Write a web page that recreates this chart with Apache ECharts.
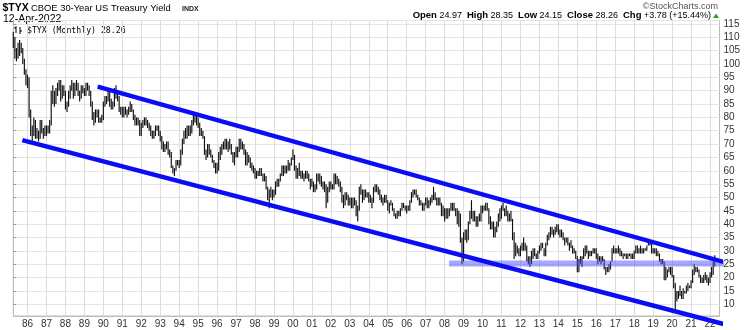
<!DOCTYPE html>
<html><head><meta charset="utf-8">
<script src="https://cdn.jsdelivr.net/npm/echarts@6/dist/echarts.min.js"></script>
<style>html,body{margin:0;padding:0;background:#fff}#c{width:750px;height:330px}</style>
</head><body><div id="c"></div>
<script>
// Monthly $TYX bars, first bar = Apr 1985, last bar = Apr 2022
const firstYear = 1985, firstMonth = 4, axisMonths = 448; // axis runs Apr 1985 .. Jul 2022
const lows = [
 106,102,101,102,103,104,100,96,92,
 91,80,73,71,73,72,72,71,72,74,72,73,
 73,74,74,77,85,84,85,88,90,86,87,88,
 83,82,84,87,90,87,88,90,88,86,87,89,
 88,88,90,88,84,79,77,78,80,78,78,78,
 79,84,85,86,84,83,83,84,87,86,82,81,
 80,80,81,80,81,82,82,79,77,77,77,73,
 73,76,77,77,76,75,73,72,72,73,75,73,
 71,68,67,67,68,66,65,61,59,58,60,62,
 61,62,66,70,72,72,73,73,74,77,78,77,
 76,73,73,72,66,64,65,66,65,63,61,59,
 59,60,64,66,68,68,68,67,68,66,63,62,
 65,65,67,68,68,66,62,62,63,61,60,59,
 57,57,58,58,58,56,56,53,49,46,50,49,
 50,51,54,54,56,58,58,59,59,60,60,62,
 64,60,57,57,58,57,57,56,57,57,56,53,
 54,52,52,53,56,55,54,53,52,46,48,52,
 53,53,53,55,55,54,52,48,46,47,49,47,
 47,46,46,47,43,41,45,51,48,49,50,50,
 48,48,46,48,52,52,51,49,48,47,48,48,
 45,44,47,45,43,42,42,43,43,45,46,45,
 44,45,45,48,50,51,50,49,47,47,45,45,
 47,46,46,47,48,49,49,47,47,47,43,43,
 41,42,42,43,45,45,45,43,40,39,33,25,
 26,34,33,34,40,42,41,41,39,39,41,41,
 44,45,45,45,40,38,38,35,35,37,39,41,
 42,45,43,43,41,41,41,34,27,28,29,28,
 28,30,30,30,26,25,24,25,27,28,27,27,
 29,30,31,28,28,32,34,35,36,35,36,37,
 36,35,35,34,32,33,32,30,31,29,29,27,
 22,22,25,24,27,28,29,27,28,28,29,29,
 27,25,26,25,26,23,21,22,22,23,26,29,
 29,29,29,28,28,27,28,27,27,28,27,27,
 27,29,29,29,29,29,29,30,30,32,32,29,
 29,29,28,28,26,25,25,19,19,20,22,21,
 20,16,8,11,12,13,12,12,14,14,15,16,
 16,18,21,22,22,20,18,18,18,19,18,17,
 18,20,21,24.15
];
const highs = [
 112,110,106,108,109,108,106,102,98,
 96,95,83,77,80,79,76,75,79,79,76,77,
 77,77,79,90,92,90,91,93,94,94,92,92,
 90,86,90,92,94,93,93,94,93,90,92,92,
 91,93,93,92,90,86,82,83,83,83,80,81,
 86,88,88,91,91,87,86,91,92,90,88,84,
 84,84,84,83,84,86,85,83,81,80,80,79,
 78,79,80,80,79,78,77,75,75,77,77,77,
 75,73,71,70,71,71,68,67,62,61,64,64,
 64,68,72,75,76,77,77,77,79,81,81,81,
 80,78,76,75,73,68,70,70,68,66,64,63,
 63,67,69,70,71,72,72,71,72,70,67,67,
 69,69,72,72,71,70,68,67,66,65,63,62,
 61,60,60,61,61,59,59,58,54,53,54,53,
 53,56,57,57,59,62,62,62,62,64,63,65,
 68,66,62,61,63,60,60,59,60,60,59,57,
 57,56,55,59,59,59,58,56,56,55,54,56,
 56,55,59,59,58,57,56,54,51,52,52,51,
 50,50,50,50,49,47,54,55,53,53,53,52,
 52,51,50,54,55,55,54,53,51,50,51,51,
 49,48,49,48,46,44,45,45,46,48,48,47,
 47,47,49,52,53,53,53,51,50,49,48,48,
 50,50,49,50,51,54,52,50,50,50,48,47,
 46,46,46,46,48,48,48,46,46,45,44,35,
 37,38,38,41,45,49,45,45,43,43,44,47,
 47,47,48,48,46,43,41,41,39,41,44,46,
 47,48,46,47,45,44,45,42,37,33,32,31,
 32,33,35,33,32,28,28,30,31,31,29,30,
 32,33,33,31,33,36,37,39,39,38,39,40,
 40,38,38,37,35,35,35,33,34,32,31,30,
 28,27,28,28,31,32,32,30,30,30,31,31,
 31,29,28,28,28,27,24,24,25,26,31,32,
 31,31,32,31,30,29,29,29,29,29,29,29,
 30,32,32,31,32,31,31,31,32,34,34,34,
 31,31,31,30,29,27,27,26,24,23,24,24,
 24,21,18,15,15,17,15,16,15,17,18,17,
 19,23,25,24,24,23,21,20,21,22,21,20,
 22,24,26,28.35
];
// Trend lines in [month index since Apr 1985, yield*10]
const upperChannel = [[53.4, 91.5], [459.9, 24.15]];
const lowerChannel = [[5.7, 71.5], [453.5, 2.0]];
const supportBand = [[275.8, 25.27], [459.9, 25.27]];
const quote = {open: '24.97', high: '28.35', low: '24.15', close: '28.26', chg: '+3.78 (+15.44%)'};

const categories = [];
for (let k = 0; k < axisMonths; k++) {
  const m = firstMonth - 1 + k;
  const y = firstYear + Math.floor(m / 12);
  const mm = (m % 12) + 1;
  categories.push(y + '-' + (mm < 10 ? '0' : '') + mm);
}
const isJan = (idx, val) => val.slice(5) === '01';
const barData = lows.map((l, i) => [i, l, highs[i]]);

const chart = echarts.init(document.getElementById('c'), null, {renderer: 'canvas'});
const F = 'Liberation Sans, Arial, sans-serif';
chart.setOption({
  animation: false,
  grid: {left: 13.3, right: 30.5, top: 20.5, bottom: 14, show: true, borderColor: '#bdbdbd', borderWidth: 1, backgroundColor: '#fff'},
  xAxis: [{
    type: 'category', data: categories, boundaryGap: false,
    axisLine: {lineStyle: {color: '#bdbdbd'}},
    axisTick: {show: false},
    axisLabel: {interval: isJan, formatter: v => v.slice(2, 4), color: '#333', fontSize: 10, fontFamily: F, margin: 3},
    splitLine: {show: true, interval: isJan, lineStyle: {color: '#dcdcdc', width: 1}}
  }, {
    type: 'value', min: 0, max: axisMonths - 1, show: false
  }],
  yAxis: {
    type: 'value', position: 'right', min: 5.6, max: 116.3, minInterval: 5, maxInterval: 5, splitNumber: 22,
    axisLine: {show: true, lineStyle: {color: '#bdbdbd'}},
    axisTick: {show: true, length: 3, lineStyle: {color: '#999'}},
    axisLabel: {color: '#333', fontSize: 10, fontFamily: F, margin: 4, showMinLabel: false, showMaxLabel: false},
    splitLine: {show: true, lineStyle: {color: '#e4e4e4', width: 1}}
  },
  series: [{
    type: 'custom', xAxisIndex: 0, yAxisIndex: 0, data: barData, z: 2,
    encode: {x: 0, y: [1, 2]},
    renderItem: (params, api) => {
      const i = api.value(0);
      const p1 = api.coord([i, api.value(1)]);
      const p2 = api.coord([i, api.value(2)]);
      return {type: 'line', shape: {x1: p1[0], y1: p1[1], x2: p2[0], y2: p2[1]}, style: {stroke: '#111', lineWidth: 1.15}};
    }
  }, {
    type: 'line', xAxisIndex: 1, data: supportBand, symbol: 'none', clip: false, z: 3, silent: true,
    lineStyle: {color: 'rgba(80,80,255,0.5)', width: 6}
  }, {
    type: 'line', xAxisIndex: 1, data: upperChannel, symbol: 'none', clip: false, z: 4, silent: true,
    lineStyle: {color: '#0b0bf5', width: 4.5}
  }, {
    type: 'line', xAxisIndex: 1, data: lowerChannel, symbol: 'none', clip: false, z: 4, silent: true,
    lineStyle: {color: '#0b0bf5', width: 4.5}
  }],
  graphic: [
    {type: 'text', x: 2.5, y: 8, style: {text: '$TYX', font: 'bold 10.5px ' + F, fill: '#000', textVerticalAlign: 'middle', verticalAlign: 'middle'}},
    {type: 'text', x: 31, y: 8.5, style: {text: 'CBOE 30-Year US Treasury Yield', font: '9.4px ' + F, fill: '#000', textVerticalAlign: 'middle', verticalAlign: 'middle'}},
    {type: 'text', x: 182, y: 9, style: {text: 'INDX', font: 'bold 7px ' + F, fill: '#222', textVerticalAlign: 'middle', verticalAlign: 'middle'}},
    {type: 'text', x: 3, y: 18.7, style: {text: '12-Apr-2022', font: '10.5px ' + F, fill: '#000', textVerticalAlign: 'middle', verticalAlign: 'middle'}},
    {type: 'text', x: 718, y: 6.7, style: {text: '\u00a9StockCharts.com', font: '9px ' + F, fill: '#555', textAlign: 'right', align: 'right', textVerticalAlign: 'middle', verticalAlign: 'middle'}},
    {type: 'text', x: 711, y: 15.7, style: {
      text: '{b|Open} ' + quote.open + '  {b|High} ' + quote.high + '  {b|Low} ' + quote.low + '  {b|Close} ' + quote.close + '  {b|Chg} ' + quote.chg,
      font: '9px ' + F, fill: '#000', textAlign: 'right', align: 'right', textVerticalAlign: 'middle', verticalAlign: 'middle',
      rich: {b: {font: 'bold 9.5px ' + F, fill: '#000'}}
    }},
    {type: 'polygon', shape: {points: [[713, 18], [719, 18], [716, 13.5]]}, style: {fill: '#2e9e2e'}},
    {type: 'polyline', shape: {points: [[16, 26], [16, 33]]}, style: {stroke: '#000', lineWidth: 1}},
    {type: 'polyline', shape: {points: [[14, 28], [16, 28]]}, style: {stroke: '#000', lineWidth: 1}},
    {type: 'polyline', shape: {points: [[20, 27], [20, 34]]}, style: {stroke: '#000', lineWidth: 1}},
    {type: 'polyline', shape: {points: [[20, 31], [22, 31]]}, style: {stroke: '#000', lineWidth: 1}},
    {type: 'text', x: 27, y: 30.5, style: {text: '$TYX (Monthly) 28.26', font: '8.2px DejaVu Sans Mono, monospace', fill: '#000', textVerticalAlign: 'middle', verticalAlign: 'middle'}}
  ]
});
</script></body></html>
